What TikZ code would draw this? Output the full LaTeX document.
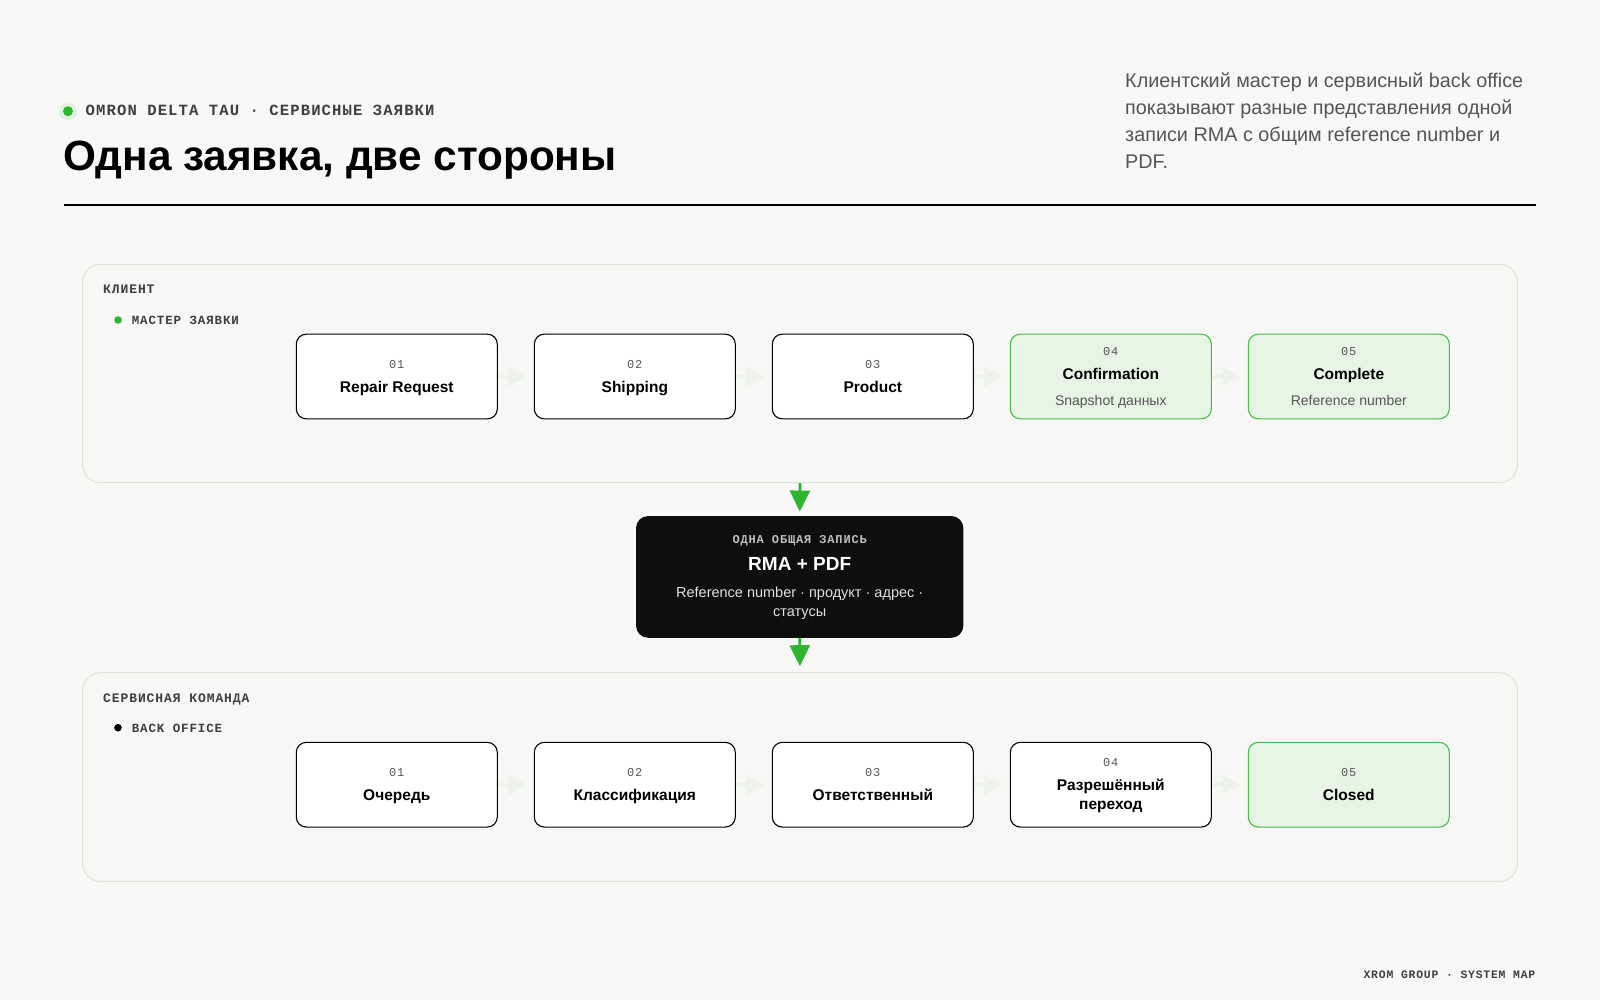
\documentclass[tikz,border=0pt]{standalone}
\usepackage{fontspec}
\setmainfont{Liberation Sans}
\newfontfamily\monof{Liberation Mono}[LetterSpace=7]
\usetikzlibrary{arrows.meta}

\definecolor{bgc}{HTML}{F8F8F6}
\definecolor{panelfill}{HTML}{F7F7F5}
\definecolor{panelline}{HTML}{E0E0DC}
\definecolor{accent}{HTML}{2DB52D}
\definecolor{halo}{HTML}{E2F2E0}
\definecolor{donefill}{HTML}{E7F5E5}
\definecolor{doneline}{HTML}{4CBB4C}
\definecolor{faint}{HTML}{EDF3EB}
\definecolor{inkgray}{HTML}{3F3F3F}
\definecolor{numgray}{HTML}{555555}
\definecolor{subgray}{HTML}{555555}
\definecolor{recfill}{HTML}{0E0E0E}

\begin{document}
\begin{tikzpicture}[x=1pt,y=-1pt,
  panel/.style={draw=panelline, fill=panelfill, line width=1pt, rounded corners=18pt, minimum width=1434.7pt, inner sep=0pt},
  stepbox/.style={draw=black, fill=white, line width=1.1pt, rounded corners=10pt, minimum width=201pt, minimum height=84.7pt, inner sep=0pt},
  donebox/.style={stepbox, draw=doneline, fill=donefill},
  stepnum/.style={anchor=base, inner sep=0pt, text=numgray, font=\monof\fontsize{12}{14}\selectfont},
  steptitle/.style={anchor=base, inner sep=0pt, font=\bfseries\fontsize{15.5}{18}\selectfont},
  stepsub/.style={anchor=base, inner sep=0pt, text=subgray, font=\fontsize{14}{16}\selectfont},
  lanelabel/.style={anchor=base west, inner sep=0pt, text=inkgray, font=\monof\bfseries\fontsize{13}{15}\selectfont},
  lanetag/.style={anchor=base west, inner sep=0pt, text=inkgray, font=\monof\bfseries\fontsize{12.5}{15}\selectfont},
  intro/.style={anchor=base west, inner sep=0pt, text=numgray, font=\fontsize{19.8}{24}\selectfont},
  feed/.style={-{Triangle[length=18pt,width=19pt]}, line width=3pt, draw=faint, shorten >=7.5pt},
  handoff/.style={-{Triangle[length=21pt,width=20pt]}, line width=2.6pt, draw=accent}
]
\fill[bgc] (0,0) rectangle (1600,1000);
\useasboundingbox (0,0) rectangle (1600,1000);

\fill[halo] (68,111.2) circle (9);
\fill[accent] (68,111.2) circle (5);
\node[anchor=base west, inner sep=0pt, text=inkgray, font=\monof\bfseries\fontsize{15.6}{18}\selectfont] (tag) at (85.5,116) {OMRON DELTA TAU · СЕРВИСНЫЕ ЗАЯВКИ};
\node[anchor=base west, inner sep=0pt, text=black, font=\bfseries\fontsize{42.3}{48}\selectfont] (title) at (63.5,170.5) {Одна заявка, две стороны};
\draw[line width=1.2pt] (64,205) -- (1536,205);

\node[intro] (p1) at (1125,87.3) {Клиентский мастер и сервисный back office};
\node[intro] (p2) at (1125,114.7) {показывают разные представления одной};
\node[intro] (p3) at (1125,141.7) {записи RMA с общим reference number и};
\node[intro] (p4) at (1125,168.7) {PDF.};

\node[panel, minimum height=218.4pt] (client) at (800,373.5) {};
\node[lanelabel] (clientname) at (103,294) {КЛИЕНТ};
\fill[accent] (118,320) circle (3.8);
\node[lanetag] (clienttag) at (131.6,324.3) {МАСТЕР ЗАЯВКИ};

\node[stepbox] (c1) at (396.8,376.5) {};
\node[stepnum] (c1n) at (396.8,368) {01};
\node[steptitle] (c1t) at (396.8,392) {Repair Request};
\node[stepbox] (c2) at (634.8,376.5) {};
\node[stepnum] (c2n) at (634.8,368) {02};
\node[steptitle] (c2t) at (634.8,392) {Shipping};
\node[stepbox] (c3) at (872.8,376.5) {};
\node[stepnum] (c3n) at (872.8,368) {03};
\node[steptitle] (c3t) at (872.8,392) {Product};
\node[donebox] (c4) at (1110.8,376.5) {};
\node[stepnum] (c4n) at (1110.8,355) {04};
\node[steptitle] (c4t) at (1110.8,379.3) {Confirmation};
\node[stepsub] (c4s) at (1110.8,405) {Snapshot данных};
\node[donebox] (c5) at (1348.8,376.5) {};
\node[stepnum] (c5n) at (1348.8,355) {05};
\node[steptitle] (c5t) at (1348.8,379.3) {Complete};
\node[stepsub] (c5s) at (1348.8,405) {Reference number};

\draw[feed] (c1) -- (c2);
\draw[feed] (c2) -- (c3);
\draw[feed] (c3) -- (c4);
\draw[feed] (c4) -- (c5);

\node[draw=none, fill=recfill, rounded corners=12pt, minimum width=327.3pt, minimum height=121.7pt, inner sep=0pt] (rma) at (799.7,576.9) {};
\node[anchor=base, inner sep=0pt, text=black!25, font=\monof\bfseries\fontsize{12}{14}\selectfont] (rmak) at (799.7,543.3) {ОДНА ОБЩАЯ ЗАПИСЬ};
\node[anchor=base, inner sep=0pt, text=white, font=\bfseries\fontsize{19}{22}\selectfont] (rmat) at (799.7,570.7) {RMA + PDF};
\node[anchor=base, inner sep=0pt, text=black!12, font=\fontsize{14.5}{17}\selectfont] (rmal1) at (799.7,597.3) {Reference number · продукт · адрес ·};
\node[anchor=base, inner sep=0pt, text=black!12, font=\fontsize{14.5}{17}\selectfont] (rmal2) at (799.7,616) {статусы};

\node[panel, minimum height=208.6pt] (service) at (800,777) {};
\node[lanelabel] (servicename) at (103,702.3) {СЕРВИСНАЯ КОМАНДА};
\fill[black] (118,727.7) circle (3.8);
\node[lanetag] (servicetag) at (131.6,732.7) {BACK OFFICE};

\draw[handoff, shorten >=4.3pt] (client.south) -- (rma.north);
\draw[handoff, shorten >=6pt] (rma.south) -- (service.north);

\node[stepbox] (s1) at (396.8,784.7) {};
\node[stepnum] (s1n) at (396.8,776) {01};
\node[steptitle] (s1t) at (396.8,800.3) {Очередь};
\node[stepbox] (s2) at (634.8,784.7) {};
\node[stepnum] (s2n) at (634.8,776) {02};
\node[steptitle] (s2t) at (634.8,800.3) {Классификация};
\node[stepbox] (s3) at (872.8,784.7) {};
\node[stepnum] (s3n) at (872.8,776) {03};
\node[steptitle] (s3t) at (872.8,800.3) {Ответственный};
\node[stepbox] (s4) at (1110.8,784.7) {};
\node[stepnum] (s4n) at (1110.8,766) {04};
\node[steptitle] (s4t) at (1110.8,790.7) {Разрешённый};
\node[steptitle] (s4u) at (1110.8,809.5) {переход};
\node[donebox] (s5) at (1348.8,784.7) {};
\node[stepnum] (s5n) at (1348.8,776) {05};
\node[steptitle] (s5t) at (1348.8,800.3) {Closed};

\draw[feed] (s1) -- (s2);
\draw[feed] (s2) -- (s3);
\draw[feed] (s3) -- (s4);
\draw[feed] (s4) -- (s5);

\node[anchor=base east, inner sep=0pt, text=inkgray, font=\monof\bfseries\fontsize{11.4}{13}\selectfont] (footer) at (1535.5,978) {XROM GROUP · SYSTEM MAP};
\end{tikzpicture}
\end{document}
